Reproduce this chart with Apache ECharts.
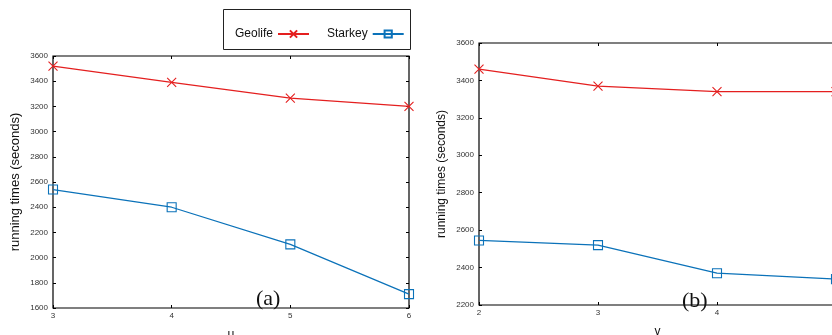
<!DOCTYPE html>
<html>
<head>
<meta charset="utf-8">
<script src="https://cdn.jsdelivr.net/npm/echarts@6/dist/echarts.min.js"></script>
<style>
  html, body { margin: 0; padding: 0; background: #fff; }
  #chart { width: 832px; height: 335px; }
</style>
</head>
<body>
<div id="chart"></div>
<script>
// x values for each panel
const muValues = [3, 4, 5, 6];
const gammaValues = [2, 3, 4, 5];

// running times (seconds), panel (a) vs mu
const geolifeMu = [3520, 3390, 3265, 3200];
const starkeyMu = [2540, 2400, 2105, 1710];

// running times (seconds), panel (b) vs gamma
const geolifeGamma = [3460, 3370, 3340, 3340];
const starkeyGamma = [2545, 2520, 2370, 2338];

const RED = "#e41f1f";
const BLUE = "#0b72b9";
const FONT = "Liberation Sans";
const crossPath = "path://M0,0L10,10M10,0L0,10";

const pairs = (xs, ys) => xs.map((x, i) => [x, ys[i]]);

function geolife(data, idx) {
  return {
    name: "Geolife",
    type: "line",
    xAxisIndex: idx,
    yAxisIndex: idx,
    data: data,
    symbol: crossPath,
    symbolSize: 9,
    lineStyle: { color: RED, width: 1.2 },
    itemStyle: { color: RED, borderColor: RED, borderWidth: 1.1 },
    emphasis: { disabled: true },
  };
}

function starkey(data, idx) {
  return {
    name: "Starkey",
    type: "line",
    xAxisIndex: idx,
    yAxisIndex: idx,
    data: data,
    symbol: "rect",
    symbolSize: 9,
    lineStyle: { color: BLUE, width: 1.2 },
    itemStyle: { color: "rgba(255,255,255,0)", borderColor: BLUE, borderWidth: 1.1 },
    emphasis: { disabled: true },
  };
}

const tickLabel = { fontFamily: FONT, fontSize: 8, color: "#333", formatter: (v) => String(v) };
const nameStyle = { fontFamily: FONT, color: "#111" };

function xAxes(grid, min, max, name) {
  return [
    {
      gridIndex: grid, type: "value", min: min, max: max, interval: 1,
      name: name, nameLocation: "middle", nameGap: 21,
      nameTextStyle: { ...nameStyle, fontSize: 12, verticalAlign: "top" },
      axisLine: { show: false },
      axisTick: { inside: true, length: 3, lineStyle: { color: "#000" } },
      axisLabel: { ...tickLabel, margin: 4 },
      splitLine: { show: false },
    },
    {
      gridIndex: grid, type: "value", min: min, max: max, interval: 1, position: "top",
      axisLine: { show: false },
      axisTick: { inside: true, length: 3, lineStyle: { color: "#000" } },
      axisLabel: { show: false },
      splitLine: { show: false },
    },
  ];
}

function yAxes(grid, min, max, fontSize) {
  return [
    {
      gridIndex: grid, type: "value", min: min, max: max, interval: 200,
      name: "running times (seconds)", nameLocation: "middle", nameGap: 31,
      nameTextStyle: { ...nameStyle, fontSize: fontSize },
      axisLine: { show: false },
      axisTick: { inside: true, length: 3, lineStyle: { color: "#000" } },
      axisLabel: { ...tickLabel, margin: 5 },
      splitLine: { show: false },
    },
    {
      gridIndex: grid, type: "value", min: min, max: max, interval: 200, position: "right",
      axisLine: { show: false },
      axisTick: { inside: true, length: 3, lineStyle: { color: "#000" } },
      axisLabel: { show: false },
      splitLine: { show: false },
    },
  ];
}

const chart = echarts.init(document.getElementById("chart"));
const xa = xAxes(0, 3, 6, "\u03bc");
const xb = xAxes(1, 2, 5, "\u03b3");
const ya = yAxes(0, 1600, 3600, 13);
const yb = yAxes(1, 2200, 3600, 12);

chart.setOption({
  animation: false,
  backgroundColor: "#fff",
  grid: [
    { left: 53, top: 56, width: 356, height: 252, show: true, borderColor: "#000", borderWidth: 1.2,
      outerBoundsMode: "none", containLabel: false },
    { left: 479, top: 43, width: 357, height: 262, show: true, borderColor: "#000", borderWidth: 1.2,
      outerBoundsMode: "none", containLabel: false },
  ],
  // order: main axes get index 0/1 (a,b); mirrored axes 2/3
  xAxis: [xa[0], xb[0], xa[1], xb[1]],
  yAxis: [ya[0], yb[0], ya[1], yb[1]],
  legend: {
    data: ["Geolife", "Starkey"],
    left: 230,
    top: 23,
    align: "right",
    itemWidth: 31,
    itemHeight: 9,
    itemGap: 17,
    textStyle: { fontFamily: FONT, fontSize: 12, color: "#111" },
    selectedMode: false,
  },
  graphic: [
    { type: "rect", left: 223, top: 9, shape: { width: 187, height: 40 },
      style: { fill: "#fff", stroke: "#222", lineWidth: 1 }, z: -1 },
    { type: "text", left: 256, top: 288,
      style: { text: "(a)", fontFamily: "Liberation Serif", fontSize: 22, fill: "#111" }, z: 10 },
    { type: "text", left: 682, top: 290,
      style: { text: "(b)", fontFamily: "Liberation Serif", fontSize: 22, fill: "#111" }, z: 10 },
  ],
  series: [
    geolife(pairs(muValues, geolifeMu), 0),
    starkey(pairs(muValues, starkeyMu), 0),
    geolife(pairs(gammaValues, geolifeGamma), 1),
    starkey(pairs(gammaValues, starkeyGamma), 1),
  ],
});
</script>
</body>
</html>
